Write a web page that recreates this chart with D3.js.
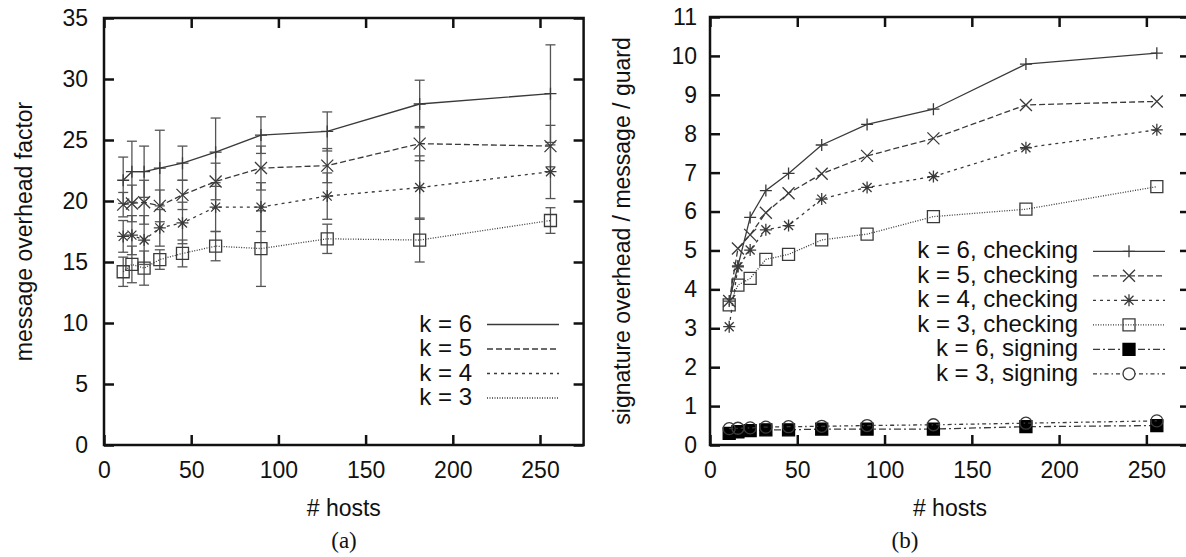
<!DOCTYPE html>
<html>
<head>
<meta charset="utf-8">
<script src="https://cdn.jsdelivr.net/npm/d3@7"></script>
<style>
  body { margin: 0; background: #fff; }
  svg text { font-family: "Liberation Sans", Arial, sans-serif; fill: #111; }
  svg text.tag { font-family: "Liberation Serif", "Times New Roman", serif; }
</style>
</head>
<body>
<svg id="chart" width="1186" height="557"></svg>
<script>
// number of hosts (same for both panels)
const hosts = [11, 16, 23, 32, 45, 64, 90, 128, 181, 256];
const xTicks = [0, 50, 100, 150, 200, 250];

// (a) message overhead factor, with error bars
const overheadK6 = [21.7, 22.4, 22.4, 22.7, 23.1, 24.0, 25.4, 25.7, 27.95, 28.8];
const overheadK5 = [19.7, 19.8, 19.9, 19.6, 20.5, 21.6, 22.7, 22.9, 24.7, 24.5];
const overheadK4 = [17.1, 17.2, 16.8, 17.8, 18.2, 19.5, 19.5, 20.4, 21.1, 22.4];
const overheadK3 = [14.2, 14.8, 14.5, 15.2, 15.7, 16.3, 16.1, 16.9, 16.8, 18.4];
const errK6 = [1.9, 2.5, 2.1, 3.1, 1.4, 2.8, 1.5, 1.6, 1.95, 4.0];
const errK5 = [1.0, 1.5, 1.8, 1.3, 1.2, 1.5, 1.8, 1.4, 1.4, 1.7];
const errK4 = [1.3, 1.6, 2.0, 1.5, 1.7, 2.0, 2.0, 1.9, 2.6, 2.2];
const errK3 = [1.2, 1.5, 1.4, 0.8, 1.1, 1.2, 3.1, 1.2, 1.8, 1.05];
const leftYTicks = [0, 5, 10, 15, 20, 25, 30, 35];

// (b) signature overhead / message / guard
const checkK6 = [3.7, 4.6, 5.85, 6.54, 6.98, 7.71, 8.24, 8.63, 9.79, 10.07];
const checkK5 = [3.7, 5.05, 5.4, 5.97, 6.47, 6.97, 7.43, 7.88, 8.74, 8.83];
const checkK4 = [3.04, 4.58, 5.01, 5.53, 5.64, 6.32, 6.62, 6.9, 7.64, 8.1];
const checkK3 = [3.6, 4.11, 4.28, 4.77, 4.9, 5.27, 5.42, 5.87, 6.06, 6.64];
const signK6 = [0.3, 0.34, 0.37, 0.39, 0.39, 0.41, 0.41, 0.41, 0.47, 0.5];
const signK3 = [0.42, 0.43, 0.44, 0.46, 0.47, 0.48, 0.5, 0.52, 0.56, 0.62];
const rightYTicks = [0, 1, 2, 3, 4, 5, 6, 7, 8, 9, 10, 11];

const svg = d3.select("#chart");
const INK = "#3a3a3a";

// gnuplot-style point shapes, s = half size
function marker(type, s) {
  const p = d3.path();
  if (type === "plus" || type === "star") {
    p.moveTo(-s, 0); p.lineTo(s, 0); p.moveTo(0, -s); p.lineTo(0, s);
  }
  if (type === "cross" || type === "star") {
    const t = type === "star" ? s * 0.75 : s;
    p.moveTo(-t, -t); p.lineTo(t, t); p.moveTo(-t, t); p.lineTo(t, -t);
  }
  if (type === "square" || type === "fsquare") p.rect(-s, -s, 2 * s, 2 * s);
  if (type === "circle") { p.moveTo(s, 0); p.arc(0, 0, s, 0, 2 * Math.PI); }
  return p.toString();
}

function drawPanel(cfg) {
  const g = svg.append("g");
  const x = d3.scaleLinear().domain([0, 275]).range([cfg.left, cfg.right]);
  const y = d3.scaleLinear().domain(cfg.yDomain).range([cfg.bottom, cfg.top]);

  const fmt = d => d;
  g.append("g").attr("transform", `translate(0,${cfg.bottom})`)
    .call(d3.axisBottom(x).tickValues(xTicks).tickSize(-10).tickPadding(17).tickFormat(fmt));
  g.append("g").attr("transform", `translate(0,${cfg.top})`)
    .call(d3.axisTop(x).tickValues(xTicks).tickSize(-10).tickFormat(""));
  g.append("g").attr("transform", `translate(${cfg.left},0)`)
    .call(d3.axisLeft(y).tickValues(cfg.yTicks).tickSize(-10).tickPadding(cfg.yPad).tickFormat(fmt));
  g.append("g").attr("transform", `translate(${cfg.right},0)`)
    .call(d3.axisRight(y).tickValues(cfg.yTicks).tickSize(-10).tickFormat(""));
  g.selectAll(".domain").remove();
  g.selectAll(".tick line").attr("stroke", "#111").attr("stroke-width", 2.5);
  g.selectAll(".tick text").attr("font-size", 23).attr("fill", "#111")
    .attr("font-family", "Liberation Sans, Arial, sans-serif");

  g.append("rect")
    .attr("x", cfg.left).attr("y", cfg.top)
    .attr("width", cfg.right - cfg.left).attr("height", cfg.bottom - cfg.top)
    .attr("fill", "none").attr("stroke", "#111").attr("stroke-width", 2.5);

  const line = d3.line().x((d, i) => x(hosts[i])).y(d => y(d));

  cfg.series.forEach(s => {
    if (s.err) {
      const eb = g.append("g").attr("stroke", "#555").attr("stroke-width", 1.3);
      s.values.forEach((v, i) => {
        const cx = x(hosts[i]), lo = y(v - s.err[i]), hi = y(v + s.err[i]);
        eb.append("line").attr("x1", cx).attr("x2", cx).attr("y1", lo).attr("y2", hi);
        eb.append("line").attr("x1", cx - 5).attr("x2", cx + 5).attr("y1", lo).attr("y2", lo);
        eb.append("line").attr("x1", cx - 5).attr("x2", cx + 5).attr("y1", hi).attr("y2", hi);
      });
    }
  });

  const fillOf = s => s.shape === "fsquare" ? "#000" : "none";
  const strokeOf = s => s.shape === "fsquare" ? "#000" : INK;

  cfg.series.forEach(s => {
    g.append("path").datum(s.values)
      .attr("d", line).attr("fill", "none")
      .attr("stroke", INK).attr("stroke-width", 1.3)
      .attr("stroke-dasharray", s.dash);
    g.selectAll(null).data(s.values).join("path")
      .attr("transform", (d, i) => `translate(${x(hosts[i])},${y(d)})`)
      .attr("d", marker(s.shape, s.size))
      .attr("fill", fillOf(s))
      .attr("stroke", strokeOf(s))
      .attr("stroke-width", 1.3);
  });

  // legend
  cfg.series.forEach((s, i) => {
    const by = cfg.legY + i * 24.5;
    g.append("text").attr("x", cfg.legX).attr("y", by)
      .attr("text-anchor", "end").attr("font-size", 24).text(s.name);
    g.append("line")
      .attr("x1", cfg.legX + 15).attr("x2", cfg.legX + 87)
      .attr("y1", by - 7).attr("y2", by - 7)
      .attr("stroke", INK).attr("stroke-width", 1.3)
      .attr("stroke-dasharray", s.dash);
    if (cfg.legMarks) {
      g.append("path")
        .attr("transform", `translate(${cfg.legX + 51},${by - 7})`)
        .attr("d", marker(s.shape, s.size))
        .attr("fill", s.shape === "circle" ? "#fff" : fillOf(s))
        .attr("stroke", strokeOf(s))
        .attr("stroke-width", 1.3);
    }
  });

  const mid = (cfg.left + cfg.right) / 2;
  g.append("text").attr("x", mid).attr("y", 516)
    .attr("text-anchor", "middle").attr("font-size", 23).text("# hosts");
  g.append("text")
    .attr("transform", `translate(${cfg.labelX},${(cfg.top + cfg.bottom) / 2}) rotate(-90)`)
    .attr("text-anchor", "middle").attr("font-size", 23).text(cfg.ylabel);
  g.append("text").attr("class", "tag").attr("x", cfg.tagX).attr("y", 548)
    .attr("text-anchor", "middle").attr("font-size", 23).text(cfg.tag);
}

drawPanel({
  left: 104, right: 583.6, top: 18, bottom: 445,
  yDomain: [0, 35], yTicks: leftYTicks, yPad: 16,
  ylabel: "message overhead factor", labelX: 32,
  tag: "(a)", tagX: 344,
  legX: 472, legY: 331.5, legMarks: false,
  series: [
    { name: "k = 6", values: overheadK6, err: errK6, dash: null, shape: "plus", size: 6 },
    { name: "k = 5", values: overheadK5, err: errK5, dash: "6,3", shape: "cross", size: 6 },
    { name: "k = 4", values: overheadK4, err: errK4, dash: "3,4", shape: "star", size: 6 },
    { name: "k = 3", values: overheadK3, err: errK3, dash: "1,1.5", shape: "square", size: 6 }
  ]
});

drawPanel({
  left: 710, right: 1190, top: 17, bottom: 445,
  yDomain: [0, 11], yTicks: rightYTicks, yPad: 13,
  ylabel: "signature overhead / message / guard", labelX: 630,
  tag: "(b)", tagX: 905,
  legX: 1078, legY: 258.3, legMarks: true,
  series: [
    { name: "k = 6, checking", values: checkK6, dash: null, shape: "plus", size: 6 },
    { name: "k = 5, checking", values: checkK5, dash: "6,3", shape: "cross", size: 6 },
    { name: "k = 4, checking", values: checkK4, dash: "3,4", shape: "star", size: 6 },
    { name: "k = 3, checking", values: checkK3, dash: "1,1.5", shape: "square", size: 6 },
    { name: "k = 6, signing", values: signK6, dash: "7,3,2,3", shape: "fsquare", size: 6 },
    { name: "k = 3, signing", values: signK3, dash: "4,3,1.5,3", shape: "circle", size: 6 }
  ]
});
</script>
</body>
</html>
